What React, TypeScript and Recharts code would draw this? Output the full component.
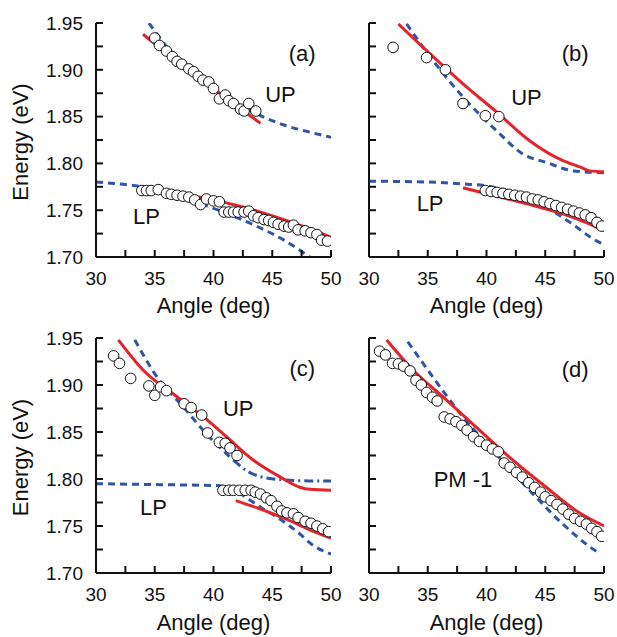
import React from 'react';
import { ComposedChart, Line, Scatter, XAxis, YAxis, ReferenceDot } from 'recharts';

type Pt = [number, number];

const FONT = '"Liberation Sans", Arial, Helvetica, sans-serif';
const RED = '#e5232a';
const BLUE = '#2f54a8';

const xTicks = [30, 32.5, 35, 37.5, 40, 42.5, 45, 47.5, 50];
const yTicks = [1.7, 1.725, 1.75, 1.775, 1.8, 1.825, 1.85, 1.875, 1.9, 1.925, 1.95];

// panel (a)
const aUpPoints: Pt[] = [
  [35.0, 1.934], [35.4, 1.926], [36.0, 1.92], [36.5, 1.914], [36.9, 1.909], [37.3, 1.906],
  [37.9, 1.901], [38.3, 1.898], [38.7, 1.893], [39.1, 1.889], [39.6, 1.887], [40.0, 1.88],
  [40.5, 1.869], [41.0, 1.873], [41.3, 1.867], [41.7, 1.864], [42.3, 1.858], [42.6, 1.856],
  [43.0, 1.864], [43.6, 1.856],
];
const aLpPoints: Pt[] = [
  [33.9, 1.771], [34.3, 1.771], [34.7, 1.771], [35.3, 1.772], [36.0, 1.768], [36.4, 1.767],
  [36.9, 1.766], [37.4, 1.765], [37.9, 1.764], [38.4, 1.761], [38.9, 1.756], [39.4, 1.762],
  [40.0, 1.76], [40.5, 1.759], [40.9, 1.748], [41.3, 1.748], [41.7, 1.748], [42.1, 1.748],
  [42.6, 1.748], [43.0, 1.749], [43.4, 1.744], [43.8, 1.742], [44.3, 1.74], [44.7, 1.739],
  [45.1, 1.737], [45.5, 1.735], [46.0, 1.733], [46.4, 1.732], [46.8, 1.734], [47.2, 1.729],
  [47.8, 1.728], [48.3, 1.726], [48.8, 1.724], [49.2, 1.718], [49.7, 1.717],
];
const aUpFit: Pt[] = [[34, 1.938], [36, 1.918], [38, 1.899], [40, 1.88], [42, 1.861], [44, 1.843]];
const aUpCalc: Pt[] = [
  [34.5, 1.95], [36, 1.925], [38, 1.899], [40, 1.879], [42, 1.864], [44, 1.851], [46, 1.841], [48, 1.834], [50, 1.828],
];
const aLpFit: Pt[] = [[38, 1.766], [40, 1.761], [42, 1.755], [44, 1.748], [46, 1.74], [48, 1.731], [50, 1.721]];
const aLpCalc: Pt[] = [
  [30, 1.78], [32, 1.778], [34, 1.775], [36, 1.769], [38, 1.761], [40, 1.752], [42, 1.742], [44, 1.731], [46, 1.718], [48.3, 1.699],
];

// panel (b)
const bUpPoints: Pt[] = [[32.05, 1.924], [34.9, 1.913], [36.5, 1.9], [38.0, 1.864], [39.9, 1.851], [41.05, 1.85]];
const bLpPoints: Pt[] = [
  [39.9, 1.771], [40.4, 1.770], [40.9, 1.769], [41.4, 1.768], [41.9, 1.767], [42.4, 1.766], [42.9, 1.765],
  [43.4, 1.764], [43.9, 1.762], [44.4, 1.761], [44.9, 1.759], [45.4, 1.757], [45.9, 1.755], [46.4, 1.753],
  [46.9, 1.751], [47.4, 1.749], [47.9, 1.747], [48.4, 1.745], [48.9, 1.742], [49.4, 1.737], [49.8, 1.733],
];
const bUpFit: Pt[] = [
  [32.5, 1.949], [35.2, 1.917], [38, 1.885], [40.85, 1.855], [43.7, 1.824], [46.5, 1.803], [48, 1.796], [48.8, 1.792], [50, 1.791],
];
const bUpCalc: Pt[] = [
  [33.2, 1.949], [35.2, 1.914], [38, 1.871], [40.85, 1.835], [43.1, 1.81], [45.1, 1.801], [47.4, 1.792], [50, 1.79],
];
const bLpFit: Pt[] = [[38, 1.774], [40.85, 1.765], [43.7, 1.756], [46.5, 1.746], [48.8, 1.735], [50, 1.728]];
const bLpCalc: Pt[] = [
  [30, 1.781], [35.2, 1.78], [38, 1.778], [40, 1.776], [42.6, 1.767], [45.1, 1.753], [47.1, 1.737], [49.4, 1.717], [50, 1.7135],
];

// panel (c)
const cUpPoints: Pt[] = [
  [31.5, 1.931], [32.0, 1.923], [32.95, 1.907], [34.5, 1.899], [35.0, 1.889], [35.5, 1.898], [36.0, 1.894],
  [37.5, 1.88], [38.1, 1.876], [39.0, 1.868], [39.5, 1.849], [40.5, 1.839], [41.0, 1.838], [41.4, 1.833], [42.0, 1.825],
];
const cLpPoints: Pt[] = [
  [40.8, 1.788], [41.3, 1.788], [41.7, 1.788], [42.2, 1.788], [42.7, 1.788], [43.2, 1.788], [43.55, 1.786],
  [44.0, 1.784], [44.5, 1.78], [44.9, 1.777], [45.4, 1.771], [45.8, 1.766], [46.25, 1.764], [46.8, 1.763],
  [47.2, 1.759], [47.8, 1.755], [48.3, 1.753], [48.8, 1.75], [49.3, 1.747], [49.8, 1.744],
];
const cUpFit: Pt[] = [
  [31.9, 1.948], [34, 1.916], [36.9, 1.8875], [39.15, 1.866], [41.1, 1.845], [43.4, 1.82], [45.7, 1.802], [47.4, 1.791], [48.2, 1.789], [50, 1.788],
];
const cUpCalc: Pt[] = [[33.3, 1.948], [35.45, 1.904], [37.2, 1.88], [39.4, 1.848], [41.7, 1.82]];
const cUpCalcTail: Pt[] = [[41.7, 1.82], [42.8, 1.809], [45.1, 1.8], [48.2, 1.798], [50, 1.798]];
const cLpFit: Pt[] = [[41.9, 1.777], [44, 1.768], [46.25, 1.757], [48.2, 1.746], [50, 1.737]];
const cLpCalc: Pt[] = [
  [30, 1.795], [35.45, 1.794], [40.3, 1.793], [42.3, 1.784], [44, 1.77], [45.7, 1.757], [47.4, 1.741], [48.2, 1.732], [50, 1.72],
];

// panel (d)
const dPoints: Pt[] = [
  [30.9, 1.936], [31.4, 1.932], [32.0, 1.923], [32.5, 1.9225], [32.95, 1.92], [33.5, 1.915], [34.0, 1.905],
  [34.45, 1.9], [34.9, 1.892], [35.4, 1.887], [35.8, 1.883], [36.4, 1.866], [36.9, 1.864], [37.4, 1.861],
  [37.9, 1.857], [38.35, 1.852], [38.9, 1.845], [39.4, 1.84], [40.0, 1.836], [40.5, 1.832], [41.0, 1.829],
  [41.5, 1.817], [42.0, 1.8125], [42.55, 1.807], [43.05, 1.802], [43.6, 1.796], [44.1, 1.791], [44.6, 1.786],
  [45.0, 1.781], [45.5, 1.777], [46.0, 1.773], [46.5, 1.768], [47.0, 1.7625], [47.5, 1.758], [48.0, 1.755],
  [48.5, 1.752], [48.95, 1.7475], [49.4, 1.744], [49.8, 1.739],
];
const dFit: Pt[] = [
  [31.5, 1.948], [33.75, 1.916], [36.6, 1.884], [39.4, 1.852], [42.25, 1.82], [45.1, 1.791], [47.9, 1.764], [50, 1.75],
];
const dCalc: Pt[] = [
  [33.3, 1.946], [35.2, 1.9125], [38, 1.866], [40.8, 1.827], [43.7, 1.7875], [46.5, 1.752], [49.35, 1.723], [49.6, 1.721],
];

type Note = { x: number; y: number; text: string };
const aNotes: Note[] = [{ x: 47.55, y: 1.918, text: '(a)' }, { x: 45.7, y: 1.874, text: 'UP' }, { x: 34.3, y: 1.744, text: 'LP' }];
const bNotes: Note[] = [{ x: 47.55, y: 1.918, text: '(b)' }, { x: 43.4, y: 1.871, text: 'UP' }, { x: 35.2, y: 1.757, text: 'LP' }];
const cNotes: Note[] = [{ x: 47.55, y: 1.918, text: '(c)' }, { x: 42.1, y: 1.875, text: 'UP' }, { x: 34.9, y: 1.77, text: 'LP' }];
const dNotes: Note[] = [{ x: 47.55, y: 1.917, text: '(d)' }, { x: 38.0, y: 1.8, text: 'PM -1' }];

const toXY = (a: Pt[]) => a.map(([x, y]) => ({ x, y }));

type Dashed = { data: Pt[]; dash: string };

interface PanelProps {
  left: number;
  top: number;
  width: number;
  height: number;
  axisWidth: number;
  marginRight: number;
  xAxisHeight: number;
  yLabels: boolean;
  points: Pt[][];
  calc: Dashed[];
  fit: Pt[][];
  notes: Note[];
}

const Circle = (p: any) => <circle cx={p.cx} cy={p.cy} r={5.3} fill="#fff" stroke="#111" strokeWidth={1} />;

const YTitle = (props: any) => {
  const vb = props.viewBox || { y: 23, height: 234 };
  const cy = vb.y + vb.height / 2 + 2;
  return (
    <text transform={`translate(28, ${cy}) rotate(-90)`} textAnchor="middle" fontSize={22} fontFamily={FONT} fill="#111">
      Energy (eV)
    </text>
  );
};

function Panel(p: PanelProps) {
  const tickStyle = { fontSize: 19, fontFamily: FONT, fill: '#111' };
  return (
    <div style={{ position: 'absolute', left: p.left, top: p.top }}>
      <ComposedChart width={p.width} height={p.height} margin={{ top: 23, right: p.marginRight, bottom: 0, left: 0 }}>
        <XAxis
          type="number"
          dataKey="x"
          domain={[30, 50]}
          allowDataOverflow
          ticks={xTicks}
          interval={0}
          height={p.xAxisHeight}
          tickSize={-7}
          tickMargin={22}
          tick={tickStyle}
          tickFormatter={(v: number) => (v % 5 === 0 ? String(v) : '')}
          axisLine={{ stroke: '#111', strokeWidth: 2 }}
          tickLine={{ stroke: '#111', strokeWidth: 2 }}
          label={{ value: 'Angle (deg)', position: 'insideBottom', offset: 7, fontSize: 22, fontFamily: FONT, fill: '#111' }}
        />
        <XAxis
          xAxisId="top"
          orientation="top"
          type="number"
          dataKey="x"
          domain={[30, 50]}
          allowDataOverflow
          ticks={xTicks}
          interval={0}
          height={0}
          tickSize={-7}
          tick={false}
          axisLine={{ stroke: '#111', strokeWidth: 2 }}
          tickLine={{ stroke: '#111', strokeWidth: 2 }}
        />
        <YAxis
          type="number"
          domain={[1.7, 1.95]}
          allowDataOverflow
          ticks={yTicks}
          interval={0}
          width={p.axisWidth}
          tickSize={-7}
          tickMargin={20}
          tick={tickStyle}
          tickFormatter={(v: number) => (p.yLabels && Math.round(v * 1000) % 50 === 0 ? v.toFixed(2) : '')}
          axisLine={{ stroke: '#111', strokeWidth: 2 }}
          tickLine={{ stroke: '#111', strokeWidth: 2 }}
          label={p.yLabels ? { content: YTitle } : undefined}
        />
        <YAxis
          yAxisId="right"
          orientation="right"
          type="number"
          domain={[1.7, 1.95]}
          allowDataOverflow
          ticks={yTicks}
          interval={0}
          width={0}
          tickSize={-7}
          tick={false}
          axisLine={{ stroke: '#111', strokeWidth: 2 }}
          tickLine={{ stroke: '#111', strokeWidth: 2 }}
        />
        {p.points.map((s, i) => (
          <Scatter key={`s${i}`} data={toXY(s)} dataKey="y" shape={Circle} isAnimationActive={false} />
        ))}
        {p.calc.map((s, i) => (
          <Line
            key={`c${i}`}
            data={toXY(s.data)}
            dataKey="y"
            type="monotone"
            stroke={BLUE}
            strokeWidth={3}
            strokeDasharray={s.dash}
            dot={false}
            activeDot={false}
            isAnimationActive={false}
          />
        ))}
        {p.fit.map((s, i) => (
          <Line
            key={`f${i}`}
            data={toXY(s)}
            dataKey="y"
            type="monotone"
            stroke={RED}
            strokeWidth={3}
            dot={false}
            activeDot={false}
            isAnimationActive={false}
          />
        ))}
        {p.notes.map((n) => (
          <ReferenceDot
            key={n.text}
            x={n.x}
            y={n.y}
            r={0}
            fill="none"
            stroke="none"
            label={{ value: n.text, position: 'center', fontSize: 22, fontFamily: FONT, fill: '#111' }}
          />
        ))}
      </ComposedChart>
    </div>
  );
}

const DASH = '7 5';
const DASHDOT = '9 4 2 4';

export default function App() {
  return (
    <div style={{ position: 'absolute', left: 0, top: 0, width: 617, height: 637, background: '#fff' }}>
      <Panel
        left={0} top={0} width={352} height={320} axisWidth={96} marginRight={21} xAxisHeight={63} yLabels
        points={[aUpPoints, aLpPoints]}
        calc={[{ data: aUpCalc, dash: DASH }, { data: aLpCalc, dash: DASH }]}
        fit={[aUpFit, aLpFit]}
        notes={aNotes}
      />
      <Panel
        left={340} top={0} width={277} height={320} axisWidth={29} marginRight={13} xAxisHeight={63} yLabels={false}
        points={[bUpPoints, bLpPoints]}
        calc={[{ data: bUpCalc, dash: DASH }, { data: bLpCalc, dash: DASH }]}
        fit={[bUpFit, bLpFit]}
        notes={bNotes}
      />
      <Panel
        left={0} top={315} width={352} height={322} axisWidth={96} marginRight={21} xAxisHeight={64} yLabels
        points={[cUpPoints, cLpPoints]}
        calc={[{ data: cUpCalc, dash: DASH }, { data: cUpCalcTail, dash: DASHDOT }, { data: cLpCalc, dash: DASH }]}
        fit={[cUpFit, cLpFit]}
        notes={cNotes}
      />
      <Panel
        left={340} top={315} width={277} height={322} axisWidth={29} marginRight={13} xAxisHeight={64} yLabels={false}
        points={[dPoints]}
        calc={[{ data: dCalc, dash: DASH }]}
        fit={[dFit]}
        notes={dNotes}
      />
    </div>
  );
}
